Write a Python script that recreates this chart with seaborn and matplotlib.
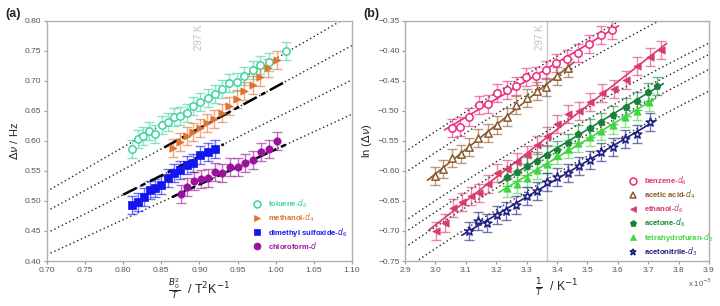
import numpy as np
import pandas as pd
import seaborn as sns
import matplotlib.pyplot as plt
from matplotlib.lines import Line2D

# ---- panel (a): linewidth vs B0^2/T ----
tol_x = [0.811, 0.819, 0.826, 0.834, 0.842, 0.851, 0.859, 0.867, 0.875, 0.884, 0.892,
         0.901, 0.911, 0.920, 0.929, 0.939, 0.949, 0.959, 0.970, 0.980, 0.991, 1.013]
tol_y = [0.586, 0.603, 0.608, 0.617, 0.612, 0.626, 0.632, 0.640, 0.641, 0.647, 0.658,
         0.665, 0.672, 0.678, 0.686, 0.696, 0.698, 0.708, 0.718, 0.726, 0.732, 0.749]
meth_x = [0.866, 0.875, 0.884, 0.892, 0.901, 0.910, 0.919, 0.929, 0.939, 0.949, 0.959,
          0.970, 0.980, 0.990, 1.001]
meth_y = [0.588, 0.598, 0.609, 0.615, 0.622, 0.630, 0.637, 0.646, 0.658, 0.669, 0.683,
          0.693, 0.707, 0.721, 0.734]
dmso_x = [0.812, 0.819, 0.827, 0.835, 0.842, 0.850, 0.859, 0.867, 0.875, 0.884, 0.892,
          0.901, 0.911, 0.920]
dmso_y = [0.494, 0.499, 0.506, 0.519, 0.521, 0.527, 0.539, 0.546, 0.552, 0.560, 0.564,
          0.577, 0.581, 0.587]
chl_x = [0.876, 0.884, 0.893, 0.902, 0.911, 0.921, 0.930, 0.940, 0.950, 0.960, 0.970,
         0.981, 0.991, 1.001]
chl_y = [0.512, 0.524, 0.533, 0.536, 0.538, 0.548, 0.547, 0.557, 0.557, 0.564, 0.569,
         0.581, 0.586, 0.600]

a_names = ['toluene-$d_8$', 'methanol-$d_4$', 'dimethyl sulfoxide-$d_6$', 'chloroform-$d$']
a_colors = ['#3fd3a0', '#e07232', '#1414ee', '#99119c']
a_markers = ['o', '>', 's', 'o']
a_open = [True, False, False, False]
a_err = 0.015
# slopes of the proportional reference lines (dotted), and which one each solvent follows
a_slopes = [0.737, 0.690, 0.638, 0.586]
a_fit = [None, 0.690, 0.638, 0.586]

# ---- panel (b): ln(linewidth) vs 1/T ----
benz_x = [3.055, 3.082, 3.111, 3.142, 3.172, 3.203, 3.234, 3.265, 3.298, 3.330, 3.365,
          3.398, 3.433, 3.470, 3.506, 3.544, 3.582]
benz_y = [-0.528, -0.526, -0.510, -0.491, -0.488, -0.471, -0.466, -0.459, -0.444, -0.442,
          -0.432, -0.420, -0.414, -0.404, -0.388, -0.373, -0.366]
acet_x = [2.999, 3.026, 3.053, 3.083, 3.112, 3.141, 3.172, 3.204, 3.235, 3.265, 3.300,
          3.333, 3.365, 3.400, 3.436]
acet_y = [-0.608, -0.596, -0.579, -0.572, -0.560, -0.545, -0.537, -0.524, -0.510, -0.491,
          -0.478, -0.467, -0.461, -0.442, -0.429]
eth_x = [3.002, 3.030, 3.058, 3.087, 3.116, 3.144, 3.174, 3.204, 3.237, 3.267, 3.300,
         3.333, 3.368, 3.401, 3.437, 3.473, 3.509, 3.547, 3.588, 3.627, 3.664, 3.706, 3.741]
eth_y = [-0.700, -0.686, -0.661, -0.652, -0.641, -0.636, -0.621, -0.603, -0.596, -0.585,
         -0.574, -0.557, -0.542, -0.522, -0.505, -0.501, -0.485, -0.471, -0.464, -0.448,
         -0.426, -0.410, -0.399]
acn_x = [3.234, 3.267, 3.300, 3.333, 3.366, 3.401, 3.435, 3.470, 3.509, 3.545, 3.583,
         3.627, 3.662, 3.700, 3.730]
acn_y = [-0.610, -0.601, -0.592, -0.583, -0.573, -0.565, -0.553, -0.538, -0.528, -0.518,
         -0.507, -0.493, -0.483, -0.468, -0.458]
thf_x = [3.234, 3.267, 3.300, 3.333, 3.366, 3.401, 3.435, 3.470, 3.509, 3.545, 3.585,
         3.624, 3.662, 3.704]
thf_y = [-0.629, -0.621, -0.611, -0.598, -0.588, -0.574, -0.563, -0.553, -0.543, -0.533,
         -0.524, -0.511, -0.500, -0.486]
mecn_x = [3.112, 3.141, 3.171, 3.202, 3.232, 3.265, 3.300, 3.333, 3.366, 3.401, 3.437,
          3.473, 3.509, 3.546, 3.583, 3.624, 3.662, 3.706]
mecn_y = [-0.700, -0.684, -0.687, -0.673, -0.667, -0.656, -0.642, -0.634, -0.619, -0.610,
          -0.604, -0.592, -0.582, -0.568, -0.560, -0.547, -0.538, -0.518]

b_names = ['benzene-$d_6$', 'acetic acid-$d_4$', 'ethanol-$d_6$', 'acetone-$d_6$',
           'tetrahydrofuran-$d_8$', 'acetonitrile-$d_3$']
b_colors = ['#ea2a7c', '#8a5a2c', '#da3a6c', '#18803a', '#3ed83e', '#1c1f82']
b_markers = ['o', '^', '<', 'p', '^', '*']
b_open = [True, True, False, False, False, True]
b_err = 0.015
# offsets of the ln(c/T) reference curves (dotted)
b_offsets = [-1.633, -1.668, -1.748, -1.767, -1.792, -1.828]

a_data = [(tol_x, tol_y), (meth_x, meth_y), (dmso_x, dmso_y), (chl_x, chl_y)]
b_data = [(benz_x, benz_y), (acet_x, acet_y), (eth_x, eth_y), (acn_x, acn_y),
          (thf_x, thf_y), (mecn_x, mecn_y)]

sns.set_theme(style='white')
plt.rcParams['font.family'] = ['Liberation Sans', 'DejaVu Sans']
plt.rcParams['mathtext.fontset'] = 'dejavusans'

fig = plt.figure(figsize=(7.2, 3.06), dpi=100)
axa = fig.add_axes([0.065, 0.147, 0.424, 0.785])
axb = fig.add_axes([0.5625, 0.147, 0.4222, 0.785])


def draw_series(ax, xs, ys, err, color, marker, open_, size=26):
    ax.errorbar(xs, ys, yerr=err, fmt='none', ecolor=color, alpha=0.6,
                elinewidth=1.0, capsize=3.5, capthick=1.0, zorder=2)
    if open_:
        sns.scatterplot(x=xs, y=ys, ax=ax, marker=marker, s=size, facecolor='white',
                        edgecolor=color, linewidth=1.1, zorder=4)
    else:
        sns.scatterplot(x=xs, y=ys, ax=ax, marker=marker, s=size, color=color,
                        edgecolor=color, linewidth=0.5, zorder=4)
    return Line2D([], [], ls='none', marker=marker, markersize=5,
                  markerfacecolor='none' if open_ else color, markeredgecolor=color,
                  markeredgewidth=1.1 if open_ else 0.5)


# panel (a)
xa = np.linspace(0.70, 1.10, 50)
for k in a_slopes:
    sns.lineplot(x=xa, y=k * xa, ax=axa, color='#222222', lw=1.0, ls=(0, (1, 2)), zorder=1)

handles_a = []
for (xs, ys), c, m, o, k in zip(a_data, a_colors, a_markers, a_open, a_fit):
    sz = 34 if m == 's' else 28
    handles_a.append(draw_series(axa, xs, ys, a_err, c, m, o, size=sz))
    if k is not None:
        xf = np.array([min(xs) - 0.012, max(xs) + 0.012])
        axa.plot(xf, k * xf, color='black', lw=1.8, ls=(0, (6, 2, 2, 2)), zorder=3)

axa.set_xlim(0.70, 1.10)
axa.set_ylim(0.40, 0.80)
axa.set_xticks(np.arange(0.70, 1.101, 0.05))
axa.set_yticks(np.arange(0.40, 0.801, 0.05))
axa.xaxis.set_major_formatter('{x:.2f}')
axa.yaxis.set_major_formatter('{x:.2f}')
axa.text(0.900, 0.773, '297 K', rotation=90, color='#c0c0c0', fontsize=7,
         ha='center', va='center')
axa.set_xlabel(r'$\frac{B_0^2}{T}$  / T$^2$K$^{-1}$', fontsize=9, labelpad=2)
axa.set_ylabel(r'$\Delta\nu$ / Hz', fontsize=8, labelpad=3)
leg = axa.legend(handles_a, a_names, loc='upper left', bbox_to_anchor=(0.665, 0.28),
                 frameon=False, fontsize=5.5, labelcolor=a_colors, handlelength=1.0,
                 handletextpad=0.9, labelspacing=0.2, borderpad=0)
for t in leg.get_texts():
    t.set_fontweight('bold')

# panel (b)
xb = np.linspace(2.9, 3.9, 60)
for b in b_offsets:
    sns.lineplot(x=xb, y=np.log(xb) + b, ax=axb, color='#222222', lw=1.0,
                 ls=(0, (1, 2)), zorder=1)
axb.axvline(1e3 / 297.0, color='#c8c8c8', lw=1.0, zorder=0)

handles_b = []
for (xs, ys), c, m, o in zip(b_data, b_colors, b_markers, b_open):
    sz = 42 if m == '*' else 28
    handles_b.append(draw_series(axb, xs, ys, b_err, c, m, o, size=sz))
    p = np.polyfit(xs, ys, 1)
    xf = np.array([min(xs) - 0.025, max(xs) + 0.02])
    sns.lineplot(x=xf, y=np.polyval(p, xf), ax=axb, color=c, lw=1.2, zorder=3)

axb.set_xlim(2.9, 3.9)
axb.set_ylim(-0.75, -0.35)
axb.set_xticks(np.arange(2.9, 3.901, 0.1))
axb.set_yticks(np.arange(-0.75, -0.349, 0.05))
axb.xaxis.set_major_formatter('{x:.1f}')
axb.yaxis.set_major_formatter(lambda v, pos: f'{v:.2f}'.replace('-', '\u2212'))
axb.text(3.344, -0.377, '297 K', rotation=90, color='#c0c0c0', fontsize=7,
         ha='center', va='center')
axb.set_xlabel(r'$\frac{1}{T}$  / K$^{-1}$', fontsize=9, labelpad=2)
axb.set_ylabel(r'ln ($\Delta\nu$)', fontsize=8, labelpad=3)
axb.text(1.01, -0.065, r'x 10$^{-3}$', transform=axb.transAxes, fontsize=5.5,
         color='#555555', ha='right', va='top')
leg = axb.legend(handles_b, b_names, loc='upper left', bbox_to_anchor=(0.725, 0.375),
                 frameon=False, fontsize=5.5, labelcolor=b_colors, handlelength=1.0,
                 handletextpad=0.9, labelspacing=0.2, borderpad=0)
for t in leg.get_texts():
    t.set_fontweight('bold')

for ax in (axa, axb):
    for s in ax.spines.values():
        s.set_color('#b0b0b0')
        s.set_linewidth(1.0)
    ax.tick_params(axis='both', labelsize=6, labelcolor='#555555', colors='#999999',
                   length=2, width=0.8, direction='out', pad=2, bottom=True, left=True)

fig.text(0.007, 0.955, '(a)', fontsize=9, fontweight='bold', va='center')
fig.text(0.504, 0.955, '(b)', fontsize=9, fontweight='bold', va='center')

fig.savefig('out.png', dpi=100, facecolor='white')
